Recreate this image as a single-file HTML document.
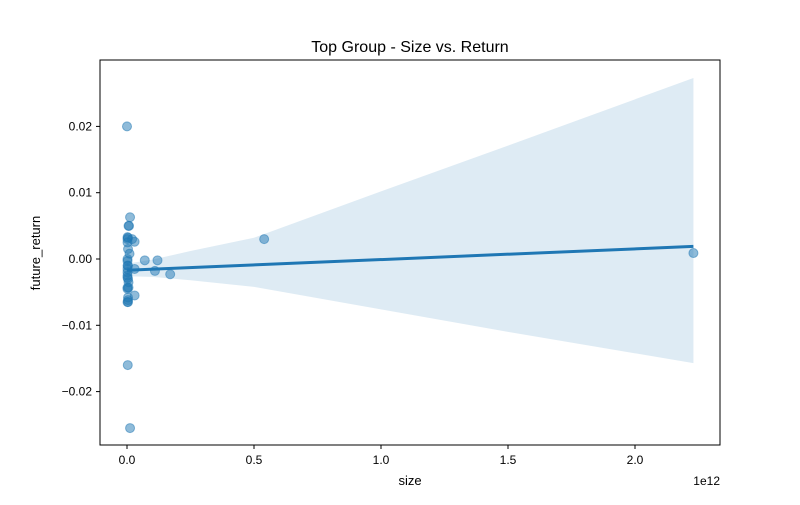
<!DOCTYPE html>
<html><head><meta charset="utf-8"><style>
body{margin:0;background:#fff;font-family:"Liberation Sans",sans-serif;}
text{font-family:"Liberation Sans",sans-serif;fill:#000}
</style></head><body>
<svg id="c" width="800" height="500"></svg>
<script>
const sizes=[0.0,0.012,0.008,0.006,0.002,0.002,0.004,0.02,0.03,0.002,0.004,0.01,0.002,0.002,0.004,0.002,0.002,0.002,0.004,0.006,0.03,0.07,0.12,0.11,0.17,0.54,2.23,0.002,0.002,0.004,0.004,0.03,0.002,0.003,0.012,0.006,0.002,0.002,0.004];
const returns=[0.020,0.0063,0.005,0.005,0.0033,0.003,0.0032,0.003,0.0026,0.0025,0.0015,0.0008,0.0,-0.0003,-0.001,-0.0015,-0.002,-0.0025,-0.003,-0.0035,-0.0015,-0.0002,-0.0002,-0.0018,-0.0023,0.003,0.0009,-0.0043,-0.0045,-0.0058,-0.0062,-0.0055,-0.0065,-0.016,-0.0255,-0.0043,-0.0028,-0.001,-0.0065];
const fitLine=[-0.0017,0.0019];
const bandX=[0,0.1,0.25,0.5,1.0,1.5,2.23];
const bandUpper=[-0.0007,-0.0001,0.0012,0.0032,0.0102,0.0171,0.0273];
const bandLower=[-0.0026,-0.0027,-0.0032,-0.0042,-0.0076,-0.0110,-0.0157];
const xTicks=[0,0.5,1.0,1.5,2.0], xTickLabels=["0.0","0.5","1.0","1.5","2.0"];
const yTicks=[-0.02,-0.01,0,0.01,0.02], yTickLabels=["−0.02","−0.01","0.00","0.01","0.02"];
const X=v=>127+v*254, Y=v=>259-v*6630;
const svg=document.getElementById('c'), NS="http://www.w3.org/2000/svg";
function mk(t,a,p){const e=document.createElementNS(NS,t);for(const k in a)e.setAttribute(k,a[k]);(p||svg).appendChild(e);return e;}
let t=mk('text',{x:410,y:52,'text-anchor':'middle','font-size':16});t.textContent="Top Group - Size vs. Return";


let pts=bandX.map((x,i)=>X(x)+','+Y(bandUpper[i])).concat(bandX.slice().reverse().map((x,i)=>X(x)+','+Y(bandLower[bandX.length-1-i])));
let band=mk('polygon',{points:pts.join(' '),fill:'#1f77b4','fill-opacity':0.15});


sizes.forEach((s,i)=>{const c=mk('circle',{cx:X(s),cy:Y(returns[i]),r:4.5,fill:'#1f77b4','fill-opacity':0.5,stroke:'#1f77b4','stroke-opacity':0.5});

});
let ln=mk('line',{x1:X(0),y1:Y(fitLine[0]),x2:X(2.23),y2:Y(fitLine[1]),stroke:'#1f77b4','stroke-width':3});


let fr=mk('rect',{x:100,y:60,width:620,height:385,fill:'none',stroke:'#000','stroke-width':1});


xTicks.forEach((v,i)=>{mk('line',{x1:X(v),x2:X(v),y1:445,y2:449,stroke:'#000'});const l=mk('text',{x:X(v),y:464,'text-anchor':'middle','font-size':12});l.textContent=xTickLabels[i];

});
yTicks.forEach((v,i)=>{mk('line',{x1:96,x2:100,y1:Y(v),y2:Y(v),stroke:'#000'});const l=mk('text',{x:92,y:Y(v)+4,'text-anchor':'end','font-size':12});l.textContent=yTickLabels[i];

});
t=mk('text',{x:410,y:485,'text-anchor':'middle','font-size':13});t.textContent="size";


t=mk('text',{x:720,y:485,'text-anchor':'end','font-size':12});t.textContent="1e12";


t=mk('text',{x:40,y:253,'text-anchor':'middle','font-size':13,transform:'rotate(-90 40 253)'});t.textContent="future_return";


</script>
</body></html>
